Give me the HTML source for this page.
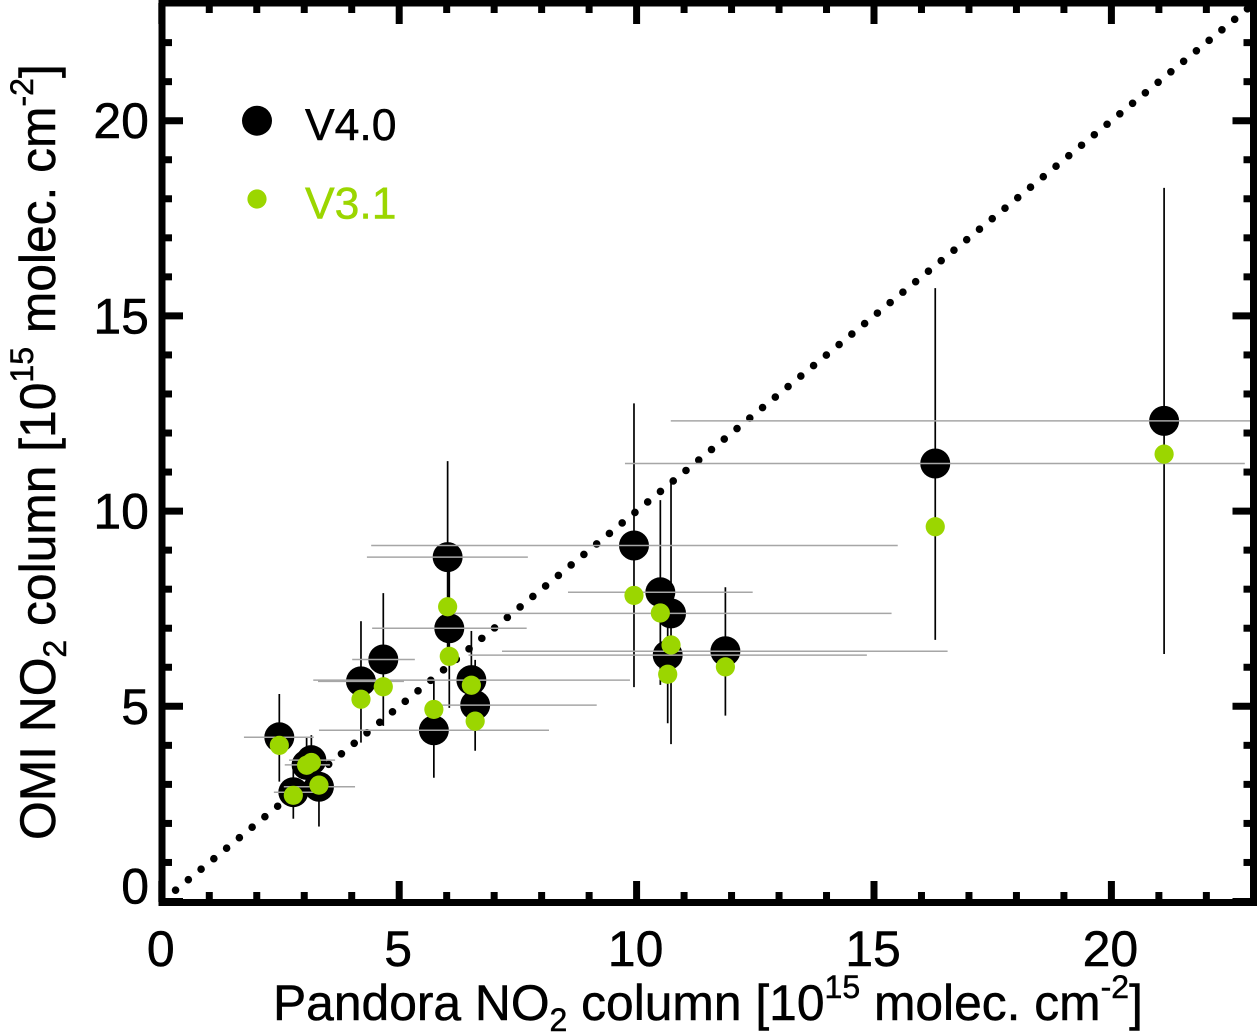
<!DOCTYPE html>
<html lang="en">
<head>
<meta charset="utf-8">
<title>OMI vs Pandora NO2 column</title>
<style>
html,body{margin:0;padding:0;background:#fff;width:1257px;height:1035px;overflow:hidden}
svg{display:block;font-family:"Liberation Sans",Arial,sans-serif}
</style>
</head>
<body>
<svg id="chart" xmlns="http://www.w3.org/2000/svg" width="1257" height="1035" viewBox="0 0 1257 1035">
<defs><clipPath id="plot-clip"><rect x="162" y="3" width="1091.5" height="899"/></clipPath></defs>
<g id="ref-layer" clip-path="url(#plot-clip)"></g>
<g id="ver-layer" clip-path="url(#plot-clip)"></g>
<g id="v4-layer"></g>
<g id="hor-layer" clip-path="url(#plot-clip)"></g>
<g id="v3-layer"></g>
<g id="tick-layer"></g>
<rect x="162" y="3" width="1091.5" height="899.5" fill="none" stroke="#000" stroke-width="7"/>
<g id="label-layer" font-size="50" fill="#000" stroke="#000" stroke-width="0.5"></g>

<text x="273" y="1020" font-size="49.75" fill="#000" stroke="#000" stroke-width="0.5">Pandora NO<tspan font-size="32" dy="11">2</tspan><tspan dy="-11"> column [10</tspan><tspan font-size="32" dy="-22">15</tspan><tspan dy="22"> molec. cm</tspan><tspan font-size="32" dy="-22">-2</tspan><tspan dy="22">]</tspan></text>
<text transform="translate(55,840) rotate(-90)" x="0" y="0" font-size="49.75" fill="#000" stroke="#000" stroke-width="0.5">OMI NO<tspan font-size="32" dy="11">2</tspan><tspan dy="-11"> column [10</tspan><tspan font-size="32" dy="-22">15</tspan><tspan dy="22"> molec. cm</tspan><tspan font-size="32" dy="-22">-2</tspan><tspan dy="22">]</tspan></text>

<g>
<circle cx="257" cy="120.7" r="15" fill="#000"/>
<text x="305" y="140" font-size="44.5" fill="#000" stroke="#000" stroke-width="0.5">V4.0</text>
<circle cx="257" cy="199" r="9.6" fill="#9bd600"/>
<text x="305" y="218.5" font-size="44.5" fill="#9bd600" stroke="#9bd600" stroke-width="0.5">V3.1</text>
</g>
</svg>
<script>
const pandoraX  = [2.475,2.77,3.05,3.15,3.31,4.195,4.665,5.73,6.02,6.055,6.52,6.60,9.945,10.50,10.725,10.655,11.87,16.29,21.11];
const omiV40    = [4.206,2.80,3.50,3.62,2.94,5.64,6.20,4.385,8.82,7.00,5.67,5.03,9.12,7.92,7.38,6.31,6.41,11.22,12.31];
const omiV31    = [4.00,2.72,3.49,3.56,2.98,5.18,5.50,4.92,7.55,6.28,5.54,4.62,7.84,7.39,6.57,5.82,6.01,9.60,11.46];
const omiHigh   = [5.315,3.50,4.19,4.26,3.62,7.18,7.90,5.67,11.28,8.875,6.93,6.19,12.76,10.28,10.80,7.98,8.05,15.71,18.28];
const omiLow    = [3.07,2.12,2.86,2.98,1.92,4.07,4.50,3.17,6.31,4.96,4.39,3.86,5.49,5.55,4.03,4.565,4.76,6.70,6.34];
const pandoraLow  = [1.73,2.36,2.59,2.68,2.57,3.29,4.01,3.31,4.32,4.43,3.19,5.77,4.41,8.555,6.07,6.46,7.165,9.755,10.72];
const pandoraHigh = [3.20,3.21,3.54,3.65,4.07,5.10,5.33,8.155,7.71,7.685,9.86,9.16,15.50,12.445,15.37,14.85,16.55,22.81,23.5];
const majorTicks = [0,5,10,15,20];
const minorTicks = [1,2,3,4,6,7,8,9,11,12,13,14,16,17,18,19,21,22];
const refLine = [0.29,23];

const NS = 'http://www.w3.org/2000/svg';
const xAxis = v => 161.8 + v * 47.48;
const yAxis = v => 901.5 - v * 39.04;
const layer = id => document.getElementById(id);

function line(parent, x1, y1, x2, y2, stroke, width) {
  const el = document.createElementNS(NS, 'line');
  el.setAttribute('x1', x1);
  el.setAttribute('y1', y1);
  el.setAttribute('x2', x2);
  el.setAttribute('y2', y2);
  el.setAttribute('stroke', stroke);
  el.setAttribute('stroke-width', width);
  parent.appendChild(el);
  return el;
}
function dot(parent, cx, cy, r, fill) {
  const el = document.createElementNS(NS, 'circle');
  el.setAttribute('cx', cx);
  el.setAttribute('cy', cy);
  el.setAttribute('r', r);
  el.setAttribute('fill', fill);
  parent.appendChild(el);
  return el;
}
function label(parent, x, y, anchor, str) {
  const el = document.createElementNS(NS, 'text');
  el.setAttribute('x', x);
  el.setAttribute('y', y);
  el.setAttribute('text-anchor', anchor);
  el.textContent = str;
  parent.appendChild(el);
  return el;
}

const ref = line(layer('ref-layer'), xAxis(refLine[0]), yAxis(refLine[0]), xAxis(refLine[1]), yAxis(refLine[1]), '#000', 7.6);
ref.setAttribute('stroke-linecap', 'round');
ref.setAttribute('stroke-dasharray', '0 16.52');



pandoraX.forEach((xv, i) => {
  const vb = line(layer('ver-layer'), xAxis(xv), yAxis(omiHigh[i]), xAxis(xv), yAxis(omiLow[i]), '#000', 1.7);
  
  

  const b = dot(layer('v4-layer'), xAxis(xv), yAxis(omiV40[i]), 15, '#000');
  
  

  const hb = line(layer('hor-layer'), xAxis(pandoraLow[i]), yAxis(omiV40[i]), xAxis(pandoraHigh[i]), yAxis(omiV40[i]), '#a6a6a6', 1.5);
  
  

  const g = dot(layer('v3-layer'), xAxis(xv), yAxis(omiV31[i]), 9.6, '#9bd600');
  
  
});

function drawTicks(values, len) {
  values.forEach(v => {
    const px = xAxis(v), py = yAxis(v);
    const bottom = line(layer('tick-layer'), px, 902, px, 902 - len, '#000', 7);
    
    
    const top = line(layer('tick-layer'), px, 3, px, 3 + len, '#000', 7);
    
    
    const left = line(layer('tick-layer'), 162, py, 162 + len, py, '#000', 7);
    
    
    const right = line(layer('tick-layer'), 1253.5, py, 1253.5 - len, py, '#000', 7);
    
    
  });
}
drawTicks(majorTicks, 21);
drawTicks(minorTicks, 10);

majorTicks.forEach(v => {
  const xl = label(layer('label-layer'), xAxis(v) - 1, 966, 'middle', String(v));
  
  
  const yBase = v === 0 ? yAxis(v) + 2 : yAxis(v) + 17.5;
  const yl = label(layer('label-layer'), 149, yBase, 'end', String(v));
  
  
});
</script>
</body>
</html>
